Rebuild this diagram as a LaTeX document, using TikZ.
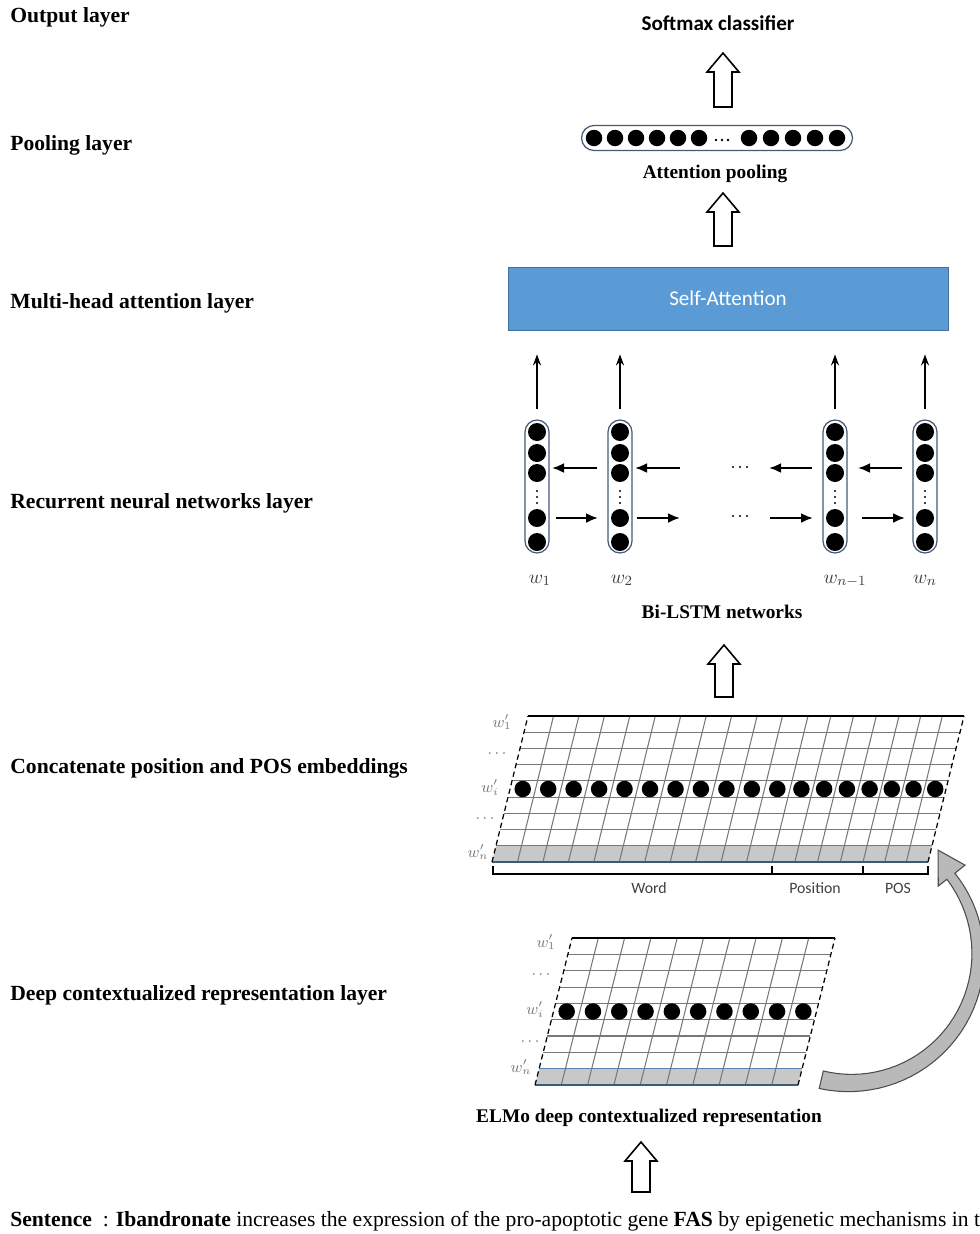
\documentclass[tikz,border=0pt]{standalone}
\usepackage{fontspec}
\setmainfont{Liberation Serif}
\newfontfamily\calibri{Carlito}
\usetikzlibrary{arrows.meta}
\definecolor{attblue}{RGB}{91,155,213}
\definecolor{attedge}{RGB}{65,113,156}
\definecolor{pilledge}{RGB}{70,90,120}
\definecolor{gridgray}{RGB}{120,120,120}
\definecolor{rowgray}{RGB}{200,200,200}
\definecolor{rowline}{RGB}{84,130,170}
\tikzset{
    layer/.style={anchor=base west, inner sep=0pt, font=\fontsize{12.3}{14}\selectfont\bfseries},
    caption/.style={anchor=base, font=\fontsize{11}{13}\selectfont\bfseries},
    sanslabel/.style={anchor=base, font=\calibri\fontsize{9}{11}\selectfont, text=black!75},
    dot/.style={circle, fill=black, inner sep=0pt, minimum size=0.33cm},
    pill/.style={draw=pilledge, line width=0.7pt, inner sep=0pt},
    hollow/.style={draw=black, line width=0.9pt, fill=white},
    thinarrow/.style={-{Stealth[length=2.2mm,width=1.6mm]}, line width=1.1pt},
    sidearrow/.style={-{Latex[length=2.4mm,width=2mm]}, line width=1.3pt},
    gridline/.style={draw=gridgray, line width=0.6pt},
    wlab/.style={anchor=base, font=\small, text=black!55},
}

\begin{document}
\begin{tikzpicture}[x=0.02cm, y=-0.02cm]
\useasboundingbox (0,0) rectangle (980,1234);

% layer names on the left
\foreach \y/\p/\t in {22/lo/{Output layer}, 150/lp/{Pooling layer}, 308/lm/{Multi-head attention layer}, 508/lr/{Recurrent neural networks layer}, 773/lc/{Concatenate position and POS embeddings}, 1000/ld/{Deep contextualized representation layer}}{
    \node[layer] (\p) at (10,\y) {\t};
}

% output and pooling
\node[anchor=base, font=\calibri\bfseries\fontsize{12}{14}\selectfont] (softmax) at (718,30) {Softmax classifier};
\node[pill, minimum width=5.42cm, minimum height=0.5cm, rounded corners=0.25cm] (pool) at (717,138) {};
\foreach \x in {594,615,636,657,678,699,749,771,793,815,837}{
    \node[dot] at (\x,138) {};
}
\foreach \x in {716,722,728}{
    \fill (\x,140) circle (1.3);
}
\node[caption] (attpool) at (715,178) {Attention pooling};

% attention
\node[fill=attblue, draw=attedge, line width=0.4pt, minimum width=8.8cm, minimum height=1.26cm, inner sep=0pt, text=white, font=\calibri\fontsize{12}{14}\selectfont] (selfatt) at (728,298.5) {Self-Attention};

% block arrows
\foreach \x/\ytip/\ybot in {723/53/107, 723/193/246, 724/645/697, 641/1142/1192}{
    \draw[hollow] ({\x-9},\ybot) -- ({\x-9},{\ytip+19}) -- ({\x-16},{\ytip+19}) -- (\x,\ytip) -- ({\x+16},{\ytip+19}) -- ({\x+9},{\ytip+19}) -- ({\x+9},\ybot) -- cycle;
}

% Bi-LSTM columns
\foreach \x/\p/\dx/\lab in {537/c1/3/{w_1}, 620/c2/2/{w_2}, 835/c3/10/{w_{n-1}}, 925/c4/0/{w_n}}{
    \node[pill, minimum width=0.48cm, minimum height=2.66cm, rounded corners=0.24cm] (\p) at (\x,486.5) {};
    \foreach \y in {432,453,473,518,542}{
        \node[dot, minimum size=0.36cm] at (\x,\y) {};
    }
    \foreach \y in {491,497,503}{
        \fill (\x,\y) circle (1.2);
    }
    \node[anchor=base, font=\fontsize{11}{13}\selectfont, text=black!75] at ({\x+\dx},583) {$\lab$};
    \draw[thinarrow] ([yshift=0.2cm]\p.north) -- ++(0,-55);
}
\foreach \a/\b in {597/552, 680/635, 812/769, 902/858}{
    \draw[sidearrow] (\a,468) -- (\b,468);
}
\foreach \a/\b in {556/598, 637/680, 770/813, 862/905}{
    \draw[sidearrow] (\a,518) -- (\b,518);
}
\foreach \y in {467,516}{
    \foreach \x in {733,740,747}{
        \fill (\x,\y) circle (1.2);
    }
}
\node[caption] (bilstm) at (722,618) {Bi-LSTM networks};

% concatenated embeddings
\begin{scope}[shift={(492,862)}, xslant=0.2466]
    \fill[rowgray] (0,0) rectangle (436,-16.22);
    \foreach \i in {2,...,8}{
        \draw[gridline] (0,{-\i*16.22}) -- (436,{-\i*16.22});
    }
    \foreach \u in {25.5,50.9,76.4,101.8,127.3,152.7,178.2,203.6,229.1,254.5,280,302.8,325.5,348.3,371,392.7,414.3}{
        \draw[gridline] (\u,0) -- (\u,-146);
    }
    \draw[rowline, line width=0.8pt] (0,-16.22) -- (436,-16.22);
    \draw[rowline!70!black, line width=1pt] (0,0) -- (436,0);
    \draw[line width=1pt] (0,-146) -- (436,-146);
    \draw[densely dashed, line width=0.7pt] (0,0) -- (0,-146) (436,0) -- (436,-146);
    \foreach \u in {12.7,38.2,63.6,89.1,114.5,140,165.5,190.9,216.4,241.8,267.3,291.4,314.1,336.9,359.6,381.8,403.5,425.2}{
        \node[dot] at (\u,-73) {};
    }
\end{scope}
\foreach \x/\y/\t in {502/727/{w'_1}, 497/757/{\cdots}, 490/792/{w'_i}, 485/822/{\cdots}, 478/857/{w'_n}}{
    \node[wlab] at (\x,\y) {$\t$};
}
\draw[line width=1pt] (493,866) -- (493,874) -- (928,874) -- (928,866);
\draw[line width=1.4pt] (772,866) -- (772,874) (863,866) -- (863,874);
\node[sanslabel] (word) at (649,893) {Word};
\node[sanslabel] (position) at (815,893) {Position};
\node[sanslabel] (pos) at (898,893) {POS};

% ELMo representation
\begin{scope}[shift={(535,1085)}, xslant=0.2517]
    \fill[rowgray] (0,0) rectangle (263,-16.33);
    \foreach \i in {2,...,8}{
        \draw[gridline] (0,{-\i*16.33}) -- (263,{-\i*16.33});
    }
    \foreach \j in {1,...,9}{
        \draw[gridline] ({\j*26.3},0) -- ({\j*26.3},-147);
    }
    \draw[rowline, line width=0.8pt] (0,-16.33) -- (263,-16.33);
    \draw[rowline!70!black, line width=1pt] (0,0) -- (263,0);
    \draw[line width=1pt] (0,-147) -- (263,-147);
    \draw[densely dashed, line width=0.7pt] (0,0) -- (0,-147) (263,0) -- (263,-147);
    \foreach \j in {0,...,9}{
        \node[dot] at ({(\j+0.5)*26.3},-73.5) {};
    }
\end{scope}
\foreach \x/\y/\t in {546/947/{w'_1}, 541/978/{\cdots}, 535/1014/{w'_i}, 530/1045/{\cdots}, 521/1072/{w'_n}}{
    \node[wlab] at (\x,\y) {$\t$};
}
\node[caption] (elmo) at (649,1122) {ELMo deep contextualized representation};

% curved arrow back up
\begin{scope}[shift={(850,955)}]
    \filldraw[fill=gray!55, draw=black!70, line width=0.6pt]
        plot[domain=0:1, samples=40] ({103-141*\x}:{137-4*\x}) -- (-38:146) -- (-50:137) -- (-38:112)
        -- plot[domain=0:1, samples=40] ({103-141*(1-\x)}:{119+4*(1-\x)}) -- cycle;
\end{scope}

% input sentence
\node[anchor=base west, inner sep=0pt, font=\fontsize{12.3}{14}\selectfont] (sent) at (10,1226) {\textbf{Sentence}~ : \textbf{Ibandronate} increases the expression of the pro-apoptotic gene \textbf{FAS} by epigenetic mechanisms in t};
\end{tikzpicture}
\end{document}
